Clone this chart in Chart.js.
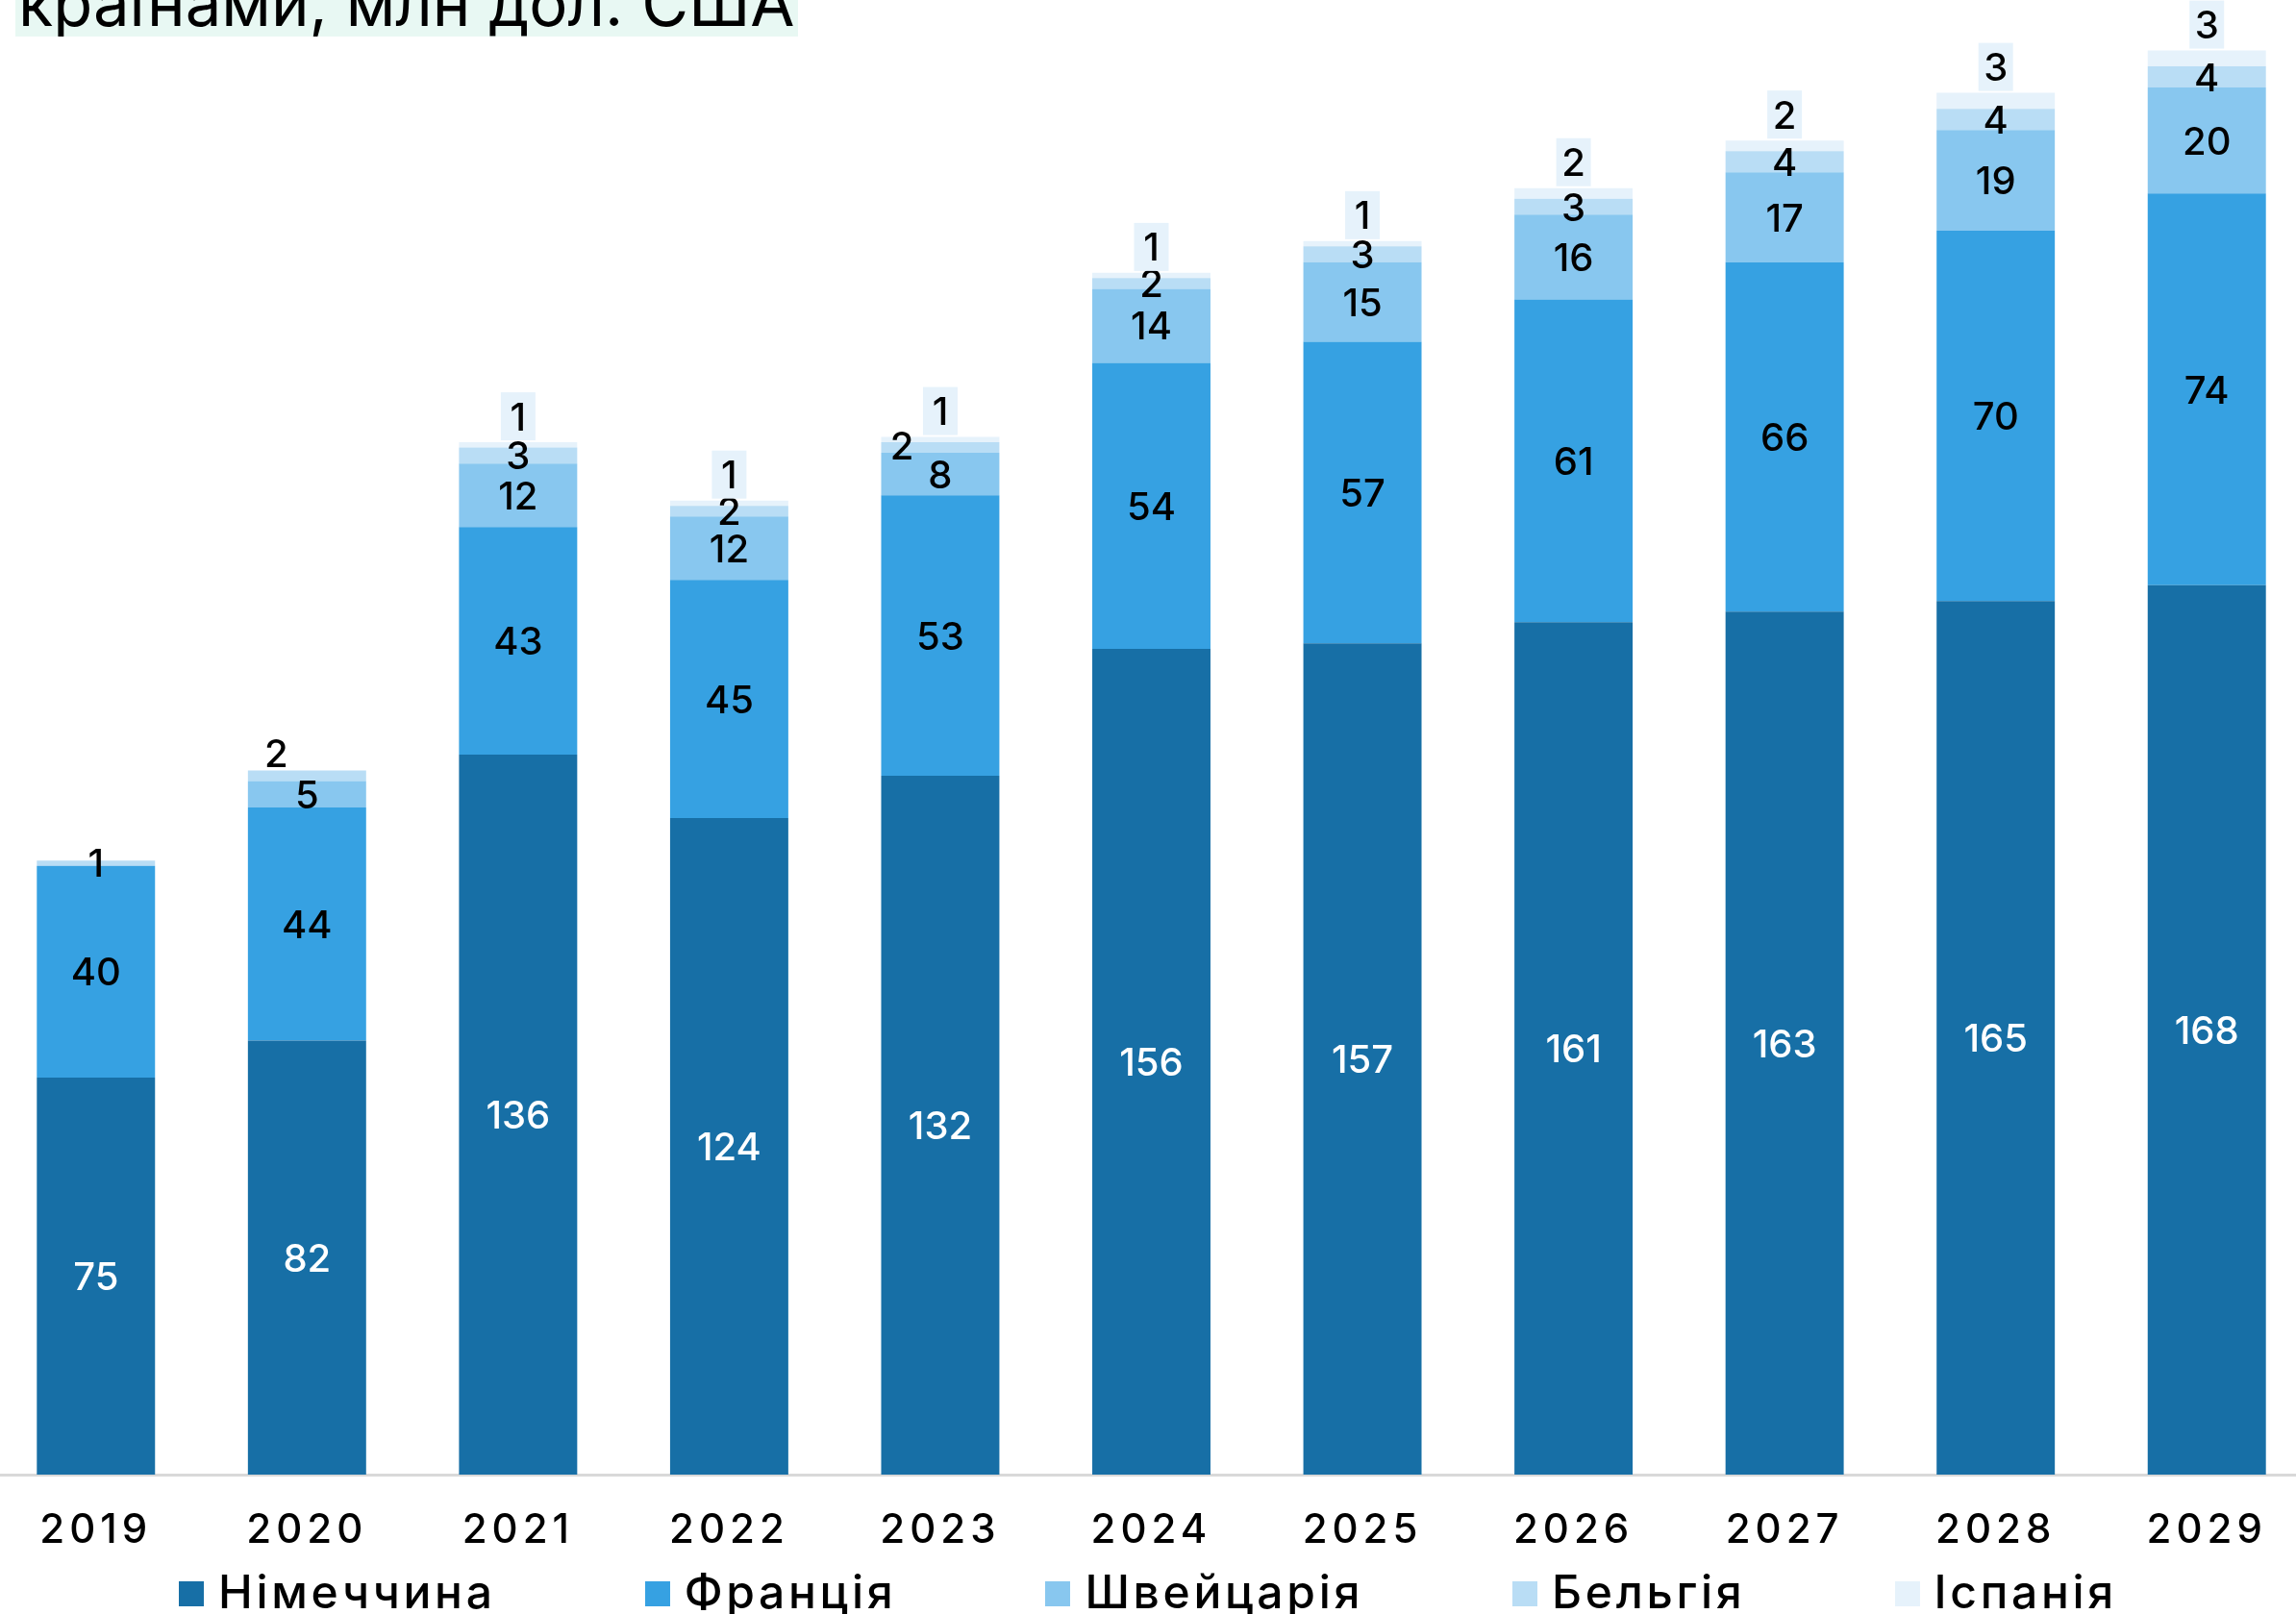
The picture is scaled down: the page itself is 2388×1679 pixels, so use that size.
<!DOCTYPE html>
<html>
<head>
<meta charset="utf-8">
<script src="https://cdn.jsdelivr.net/npm/chart.js@4.4.1/dist/chart.umd.min.js"></script>
<style>
  html, body { margin: 0; padding: 0; background: #fff; }
  body { width: 2388px; height: 1679px; position: relative; overflow: hidden; font-family: Inter, sans-serif; color: #000; }
  .title { position: absolute; left: 16px; top: -31px; height: 69px; line-height: 68px; font-size: 67px; padding: 0 3px; background: #e8f8f3; white-space: nowrap; overflow: hidden; }
  .chart-box { position: absolute; left: -10px; top: 0; width: 2415px; height: 1679px; }
  #legend { position: absolute; left: 186px; top: 1628px; display: flex; gap: 155px; font-size: 48px; font-weight: 500; line-height: 56px; letter-spacing: 3.7px; white-space: nowrap; }
  #legend .item { display: flex; align-items: center; }
  #legend .box { width: 26px; height: 26px; margin-right: 15px; margin-top: 4px; }
</style>
</head>
<body>
<div class="title">країнами, млн дол. США</div>
<div class="chart-box"><canvas id="exportChart"></canvas></div>
<div id="legend"></div>

<script>
    const years = ["2019", "2020", "2021", "2022", "2023", "2024", "2025", "2026", "2027", "2028", "2029"];

    const germany     = [75, 82, 136, 124, 132, 156, 157, 161, 163, 165, 168];
    const france      = [40, 44, 43, 45, 53, 54, 57, 61, 66, 70, 74];
    const switzerland = [null, 5, 12, 12, 8, 14, 15, 16, 17, 19, 20];
    const belgium     = [1, 2, 3, 2, 2, 2, 3, 3, 4, 4, 4];
    const spain       = [null, null, 1, 1, 1, 1, 1, 2, 2, 3, 3];

    const names  = ["Німеччина", "Франція", "Швейцарія", "Бельгія", "Іспанія"];
    const colors = ["#176fa6", "#36a1e2", "#88c7ef", "#b9ddf5", "#e6f2fb"];

    // label look per series; Spain gets a little tag above the bar
    const labelStyle = [
        { color: "#ffffff" },
        { color: "#000000" },
        { color: "#000000" },
        { color: "#000000" },
        { color: "#000000", above: true }
    ];
    // hand-moved labels in the original (series index -> bar index -> [dx, dy])
    const labelNudge = {
        3: { 1: [-32, -24], 4: [-40, -2] }
    };

    const segmentLabels = {
        id: "segmentLabels",
        afterDatasetsDraw(chart) {
            const ctx = chart.ctx;
            ctx.save();
            ctx.font = "500 40px Inter";
            ctx.textAlign = "center";
            ctx.textBaseline = "alphabetic";
            chart.data.datasets.forEach((ds, di) => {
                const meta = chart.getDatasetMeta(di);
                meta.data.forEach((bar, i) => {
                    const v = ds.data[i];
                    if (v == null) return;
                    const style = labelStyle[di];
                    let x = bar.x;
                    let y = (bar.y + bar.base) / 2;
                    if (style.above) {
                        const bw = 36, bh = 50;
                        const top = bar.y - 2 - bh;
                        ctx.fillStyle = ds.backgroundColor;
                        ctx.fillRect(x - bw / 2, top, bw, bh);
                        y = top + bh / 2;
                    }
                    const nudge = (labelNudge[di] || {})[i];
                    if (nudge) { x += nudge[0]; y += nudge[1]; }
                    ctx.fillStyle = style.color;
                    ctx.fillText(String(Math.round(v)), x, y + 14.5);
                });
            });
            ctx.restore();
        }
    };

    // the year labels are letter-spaced in the original
    const tickSpacing = {
        id: "tickSpacing",
        beforeDraw(chart) { chart.ctx.letterSpacing = "5px"; },
        beforeDatasetsDraw(chart) { chart.ctx.letterSpacing = "0px"; }
    };

    const series = [germany, france, switzerland, belgium, spain];

    const chart = new Chart(document.getElementById("exportChart"), {
        type: "bar",
        data: {
            labels: years,
            datasets: series.map((d, k) => ({
                label: names[k],
                data: d,
                backgroundColor: colors[k],
                borderWidth: 0,
                barPercentage: 0.56,
                categoryPercentage: 1
            }))
        },
        options: {
            responsive: true,
            maintainAspectRatio: false,
            animation: false,
            layout: { padding: { top: 3, left: 0, right: 0, bottom: 0 } },
            plugins: {
                legend: { display: false },
                tooltip: { enabled: false }
            },
            scales: {
                x: {
                    stacked: true,
                    offset: true,
                    grid: { display: false, drawTicks: false },
                    border: { display: true, color: "#d9d9d9", width: 3 },
                    ticks: {
                        color: "#000",
                        font: { family: "Inter", size: 42, weight: 500 },
                        padding: 33
                    },
                    afterFit(axis) { axis.height = 145; }
                },
                y: {
                    stacked: true,
                    display: false,
                    min: 0,
                    max: 278
                }
            }
        },
        plugins: [tickSpacing, segmentLabels]
    });

    // legend built from the datasets
    const legend = document.getElementById("legend");
    chart.data.datasets.forEach(ds => {
        const item = document.createElement("div");
        item.className = "item";
        const box = document.createElement("span");
        box.className = "box";
        box.style.background = ds.backgroundColor;
        const txt = document.createElement("span");
        txt.textContent = ds.label;
        item.appendChild(box);
        item.appendChild(txt);
        legend.appendChild(item);
    });
</script>
</body>
</html>
